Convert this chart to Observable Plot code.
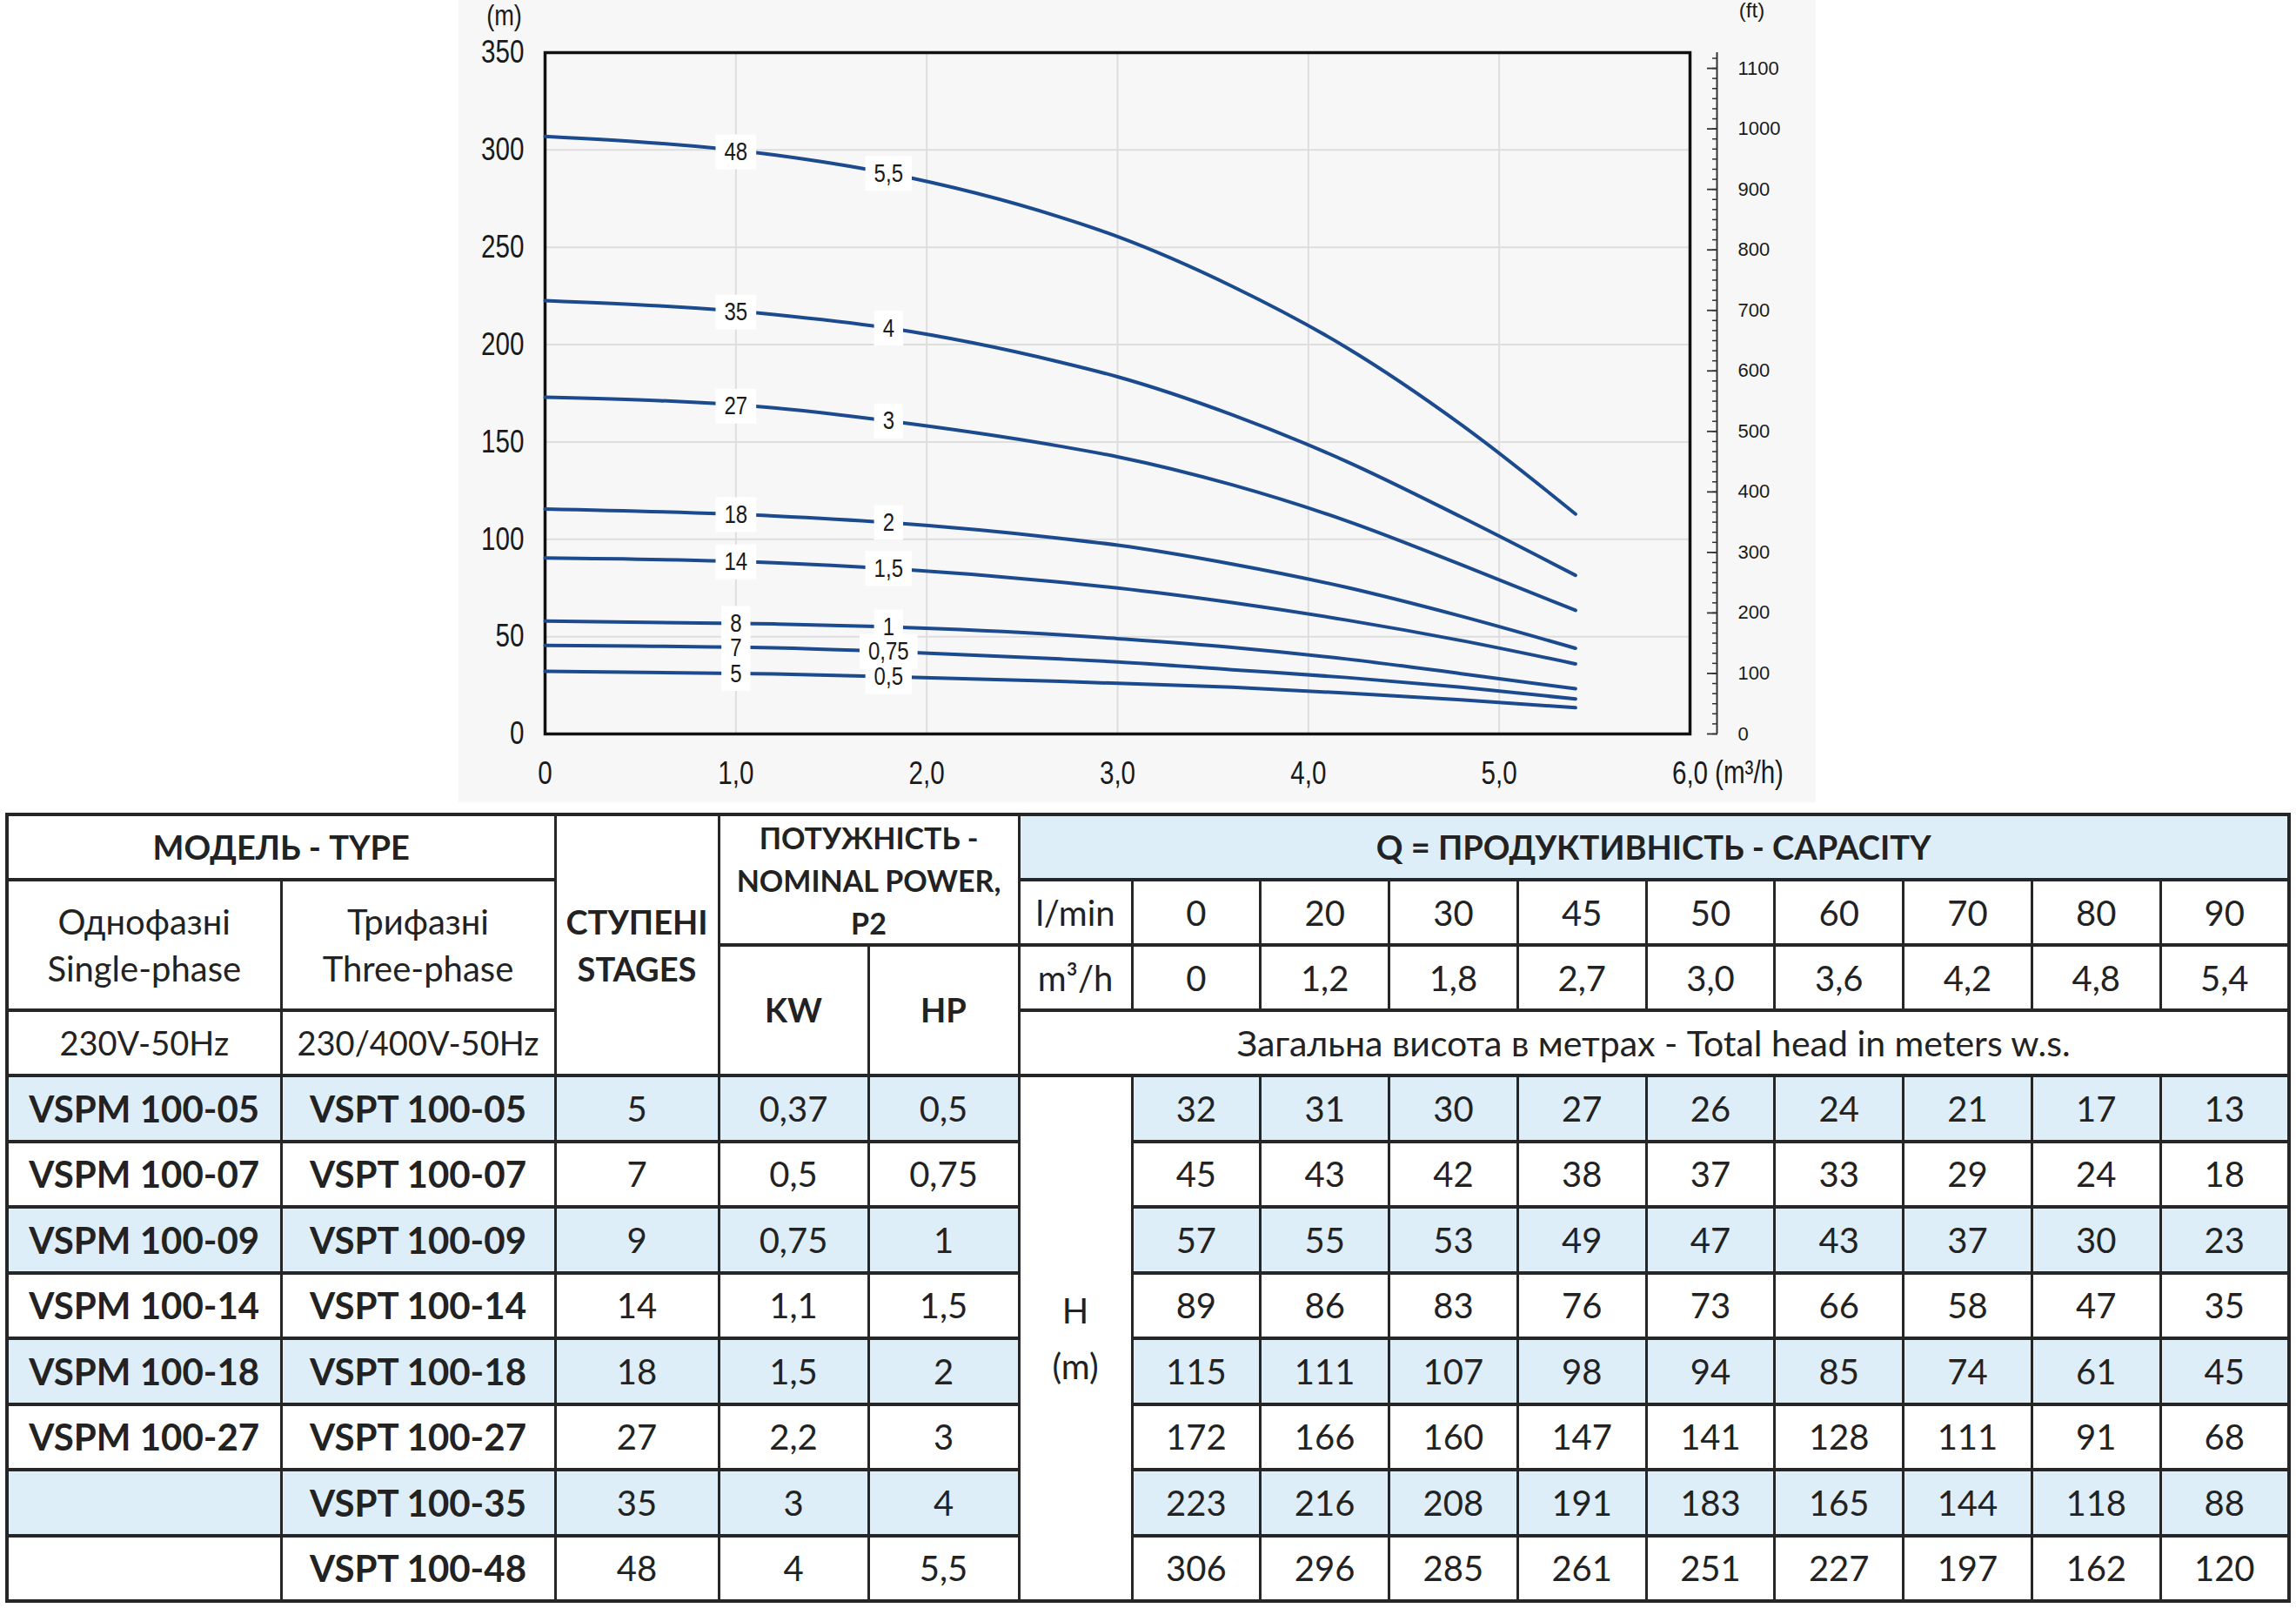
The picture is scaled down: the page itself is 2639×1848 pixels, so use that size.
<!DOCTYPE html>
<html>
<head>
<meta charset="utf-8">
<script src="https://cdn.jsdelivr.net/npm/d3@7"></script>
<script src="https://cdn.jsdelivr.net/npm/@observablehq/plot@0.6"></script>
<style>
  html, body { margin: 0; padding: 0; background: #ffffff; width: 2639px; height: 1848px; overflow: hidden; }
  #chart { position: absolute; left: 527px; top: 0; width: 1560px; height: 922px; background: #f7f7f7; }
  #table { position: absolute; display: grid; background: #262626; box-sizing: content-box;
           font-family: Lato, "Open Sans", sans-serif; color: #222; }
  #table .c { display: flex; align-items: center; justify-content: center; text-align: center;
              background: #ffffff; font-size: 40px; line-height: 1.2; white-space: nowrap; }
  #table .blue { background: #ddeef9; }
  #table .b { font-weight: 700; }
</style>
</head>
<body>
<div id="chart"></div>
<div id="table"></div>
<script>
// ---------------- DATA ----------------
// Flow points (table columns)
const flowLmin = [0, 20, 30, 45, 50, 60, 70, 80, 90];
const flowM3h  = [0, 1.2, 1.8, 2.7, 3.0, 3.6, 4.2, 4.8, 5.4];
const flowM3hText = ["0", "1,2", "1,8", "2,7", "3,0", "3,6", "4,2", "4,8", "5,4"];

// Models (table rows)
const singlePhase = ["VSPM 100-05", "VSPM 100-07", "VSPM 100-09", "VSPM 100-14", "VSPM 100-18", "VSPM 100-27", "", ""];
const threePhase  = ["VSPT 100-05", "VSPT 100-07", "VSPT 100-09", "VSPT 100-14", "VSPT 100-18", "VSPT 100-27", "VSPT 100-35", "VSPT 100-48"];
const stages  = ["5", "7", "9", "14", "18", "27", "35", "48"];
const powerKW = ["0,37", "0,5", "0,75", "1,1", "1,5", "2,2", "3", "4"];
const powerHP = ["0,5", "0,75", "1", "1,5", "2", "3", "4", "5,5"];

// Total head table (m)
const head05 = [32, 31, 30, 27, 26, 24, 21, 17, 13];
const head07 = [45, 43, 42, 38, 37, 33, 29, 24, 18];
const head09 = [57, 55, 53, 49, 47, 43, 37, 30, 23];
const head14 = [89, 86, 83, 76, 73, 66, 58, 47, 35];
const head18 = [115, 111, 107, 98, 94, 85, 74, 61, 45];
const head27 = [172, 166, 160, 147, 141, 128, 111, 91, 68];
const head35 = [223, 216, 208, 191, 183, 165, 144, 118, 88];
const head48 = [306, 296, 285, 261, 251, 227, 197, 162, 120];
const headTable = [head05, head07, head09, head14, head18, head27, head35, head48];

// Curves as drawn in the graph (at the flow points above)
const curve05 = [32.2, 30.8, 29.4, 27, 26, 24, 21, 17.5, 13.5];
const curve07 = [45.5, 44.2, 42.3, 38.5, 37, 33, 29, 24, 18];
const curve09 = [58, 56.5, 55, 51, 49, 44.5, 38.5, 31, 23.2];
const curve14 = [90.4, 88, 85, 78, 75, 67.5, 58.5, 48, 36];
const curve18 = [115.6, 112, 108.6, 100.5, 97, 87.3, 75.3, 60.5, 44];
const curve27 = [173, 167.5, 160.8, 147.8, 142.4, 128, 109.5, 87, 63.5];
const curve35 = [222.6, 215.5, 208.5, 191, 183.5, 164, 140, 111.5, 81.5];
const curve48 = [307, 297.5, 288, 265.5, 255.5, 230, 198.5, 159, 113];
const curves = [curve05, curve07, curve09, curve14, curve18, curve27, curve35, curve48];
const curveStageLabels = ["5", "7", "8", "14", "18", "27", "35", "48"];
const curveHpLabels    = ["0,5", "0,75", "1", "1,5", "2", "3", "4", "5,5"];
const stageLabelQ = 1.0;
const hpLabelQ = 1.8;

// Axes
const xTicks   = [0, 1, 2, 3, 4, 5, 6];
const yTicksM  = [0, 50, 100, 150, 200, 250, 300, 350];
const ftTicks  = [0, 100, 200, 300, 400, 500, 600, 700, 800, 900, 1000, 1100];
const ftAtTop  = 1126;           // feet value level with the top of the frame (350 m)
const ftMinorPer100 = 6;

// ---------------- CHART ----------------
const NARROW = "'Liberation Sans',Arial,sans-serif";     // drawn horizontally condensed
const WIDE = "Arial,'Liberation Sans',sans-serif";
const CONDENSE = 0.8;
const LABEL_SIZE = 30;
const ftToM = ft => ft * 350 / ftAtTop;
const ftMinor = d3.range(0, ftAtTop, 100 / ftMinorPer100);

const lineData = curves.flatMap((c, i) => c.map((h, j) => ({curve: i, q: flowM3h[j], h})));
const labelData = curves.flatMap((c, i) => {
  const f = d3.scaleLinear().domain(flowM3h).range(c);
  return [
    {q: stageLabelQ, h: f(stageLabelQ), label: curveStageLabels[i]},
    {q: hpLabelQ, h: f(hpLabelQ), label: curveHpLabels[i]}
  ];
});

// white box behind each curve label (rectangle symbol: half-width = r, fixed height)
const BOX_H = 40;
const boxSymbol = {
  draw(context, size) {
    const r = Math.sqrt(size / Math.PI);
    context.rect(-r, -BOX_H / 2, 2 * r, BOX_H);
  }
};
const glyphW = ch => (ch === "," ? 0.278 : 0.556) * LABEL_SIZE * CONDENSE;
const boxHalf = s => (Array.from(s).reduce((a, ch) => a + glyphW(ch), 0) + 20) / 2;
const labelLengths = Array.from(new Set(labelData.map(d => d.label.length)));
const boxMarks = labelLengths.map(len => {
  const group = labelData.filter(d => d.label.length === len);
  return Plot.dot(group, {x: "q", y: "h", r: boxHalf(group[0].label), symbol: boxSymbol, fill: "#ffffff", stroke: "none"});
});

const chart = Plot.plot({
  width: 1560, height: 922,
  marginLeft: 99, marginRight: 145, marginTop: 60, marginBottom: 79,
  style: {background: "transparent", fontFamily: NARROW, color: "#1a1a1a", overflow: "visible"},
  x: {domain: [0, 6]},
  y: {domain: [0, 350]},
  marks: [
    Plot.gridX(xTicks.slice(1, -1), {stroke: "#dedede", strokeOpacity: 1, strokeWidth: 2}),
    Plot.gridY(yTicksM.slice(1, -1), {stroke: "#dedede", strokeOpacity: 1, strokeWidth: 2}),
    Plot.frame({stroke: "#111111", strokeWidth: 3.5}),
    Plot.axisY(yTicksM, {anchor: "left", tickSize: 0, tickPadding: 24, fontSize: 37, fontFamily: NARROW, label: null,
      tickFormat: d => String(d)}),
    Plot.axisX(xTicks, {anchor: "bottom", tickSize: 0, tickPadding: 31, fontSize: 37, fontFamily: NARROW, label: null,
      tickFormat: d => d === 0 ? "0" : d.toFixed(1).replace(".", ",")}),
    // secondary feet axis
    Plot.ruleX([6], {y1: 0, y2: 350, dx: 31, stroke: "#333333", strokeWidth: 2}),
    Plot.axisY(ftMinor.map(ftToM), {anchor: "right", dx: 25, tickSize: 6, fill: "none", label: null,
      stroke: "#333333", strokeWidth: 1.5}),
    Plot.axisY(ftTicks.map(ftToM), {anchor: "right", dx: 19, tickSize: 12, tickPadding: 24, label: null,
      fontSize: 22, fontFamily: WIDE, stroke: "#333333", strokeWidth: 1.8,
      tickFormat: d => String(Math.round(d * ftAtTop / 350))}),
    // curves
    Plot.line(lineData, {x: "q", y: "h", z: "curve", stroke: "#1b4b8e", strokeWidth: 4, curve: "monotone-x"}),
    // label boxes, then label texts
    ...boxMarks,
    Plot.text(labelData, {x: "q", y: "h", text: "label", fontSize: LABEL_SIZE, fontFamily: NARROW, fill: "#1a1a1a"}),
    // unit labels
    Plot.text(["(m)"], {frameAnchor: "top-left", dx: -47, dy: -42, fontSize: 34, fontFamily: NARROW,
      textAnchor: "middle", lineAnchor: "middle"}),
    Plot.text(["(ft)"], {frameAnchor: "top-right", dx: 71, dy: -48, fontSize: 24, fontFamily: WIDE,
      textAnchor: "middle", lineAnchor: "middle"}),
    Plot.text(["(m³/h)"], {frameAnchor: "bottom-right", dx: 68, dy: 45, fontSize: 37, fontFamily: NARROW,
      textAnchor: "middle", lineAnchor: "middle"})
  ]
});

// condense the narrow-font texts horizontally about their anchor points
Array.from(chart.querySelectorAll("g"))
  .filter(g => g.getAttribute("font-family") === NARROW)
  .forEach(g => g.querySelectorAll("text").forEach(t => {
    const x = parseFloat(t.getAttribute("x")) || 0;
    const tr = t.getAttribute("transform") || "";
    t.setAttribute("transform", `${tr} translate(${x},0) scale(${CONDENSE},1) translate(${-x},0)`);
  }));
document.getElementById("chart").appendChild(chart);

// ---------------- TABLE ----------------
const colEdges = [8, 323, 638, 826, 998, 1171, 1301].concat(d3.range(1, 10).map(k => 1301 + k * (2631 - 1301) / 9));
const rowEdges = [936, 1011, 1086, 1161, 1236].concat(d3.range(1, 9).map(k => 1236 + k * (1840 - 1236) / 8));
const OUTER = 4, VGAP = 3, HGAP = 4;

function tracks(edges, gap) {
  const n = edges.length - 1;
  return d3.range(n).map(i => {
    const a = edges[i] + (i === 0 ? OUTER / 2 : gap / 2);
    const b = edges[i + 1] - (i === n - 1 ? OUTER / 2 : gap / 2);
    return (b - a).toFixed(2) + "px";
  }).join(" ");
}

const table = document.getElementById("table");
Object.assign(table.style, {
  left: (colEdges[0] - OUTER / 2) + "px",
  top: (rowEdges[0] - OUTER / 2) + "px",
  padding: OUTER + "px",
  columnGap: VGAP + "px",
  rowGap: HGAP + "px",
  gridTemplateColumns: tracks(colEdges, VGAP),
  gridTemplateRows: tracks(rowEdges, HGAP)
});

function cell(html, col, row, opts = {}) {
  const d = document.createElement("div");
  d.className = "c" + (opts.bold ? " b" : "") + (opts.blue ? " blue" : "");
  d.style.gridColumn = `${col + 1} / span ${opts.cs || 1}`;
  d.style.gridRow = `${row + 1} / span ${opts.rs || 1}`;
  if (opts.size) d.style.fontSize = opts.size + "px";
  if (opts.lh) d.style.lineHeight = opts.lh + "px";
  d.innerHTML = html;
  table.appendChild(d);
}

// header
cell("МОДЕЛЬ - TYPE", 0, 0, {cs: 2, bold: true, size: 38});
cell("СТУПЕНІ<br>STAGES", 2, 0, {rs: 4, bold: true, size: 38, lh: 54});
cell("ПОТУЖНІСТЬ -<br>NOMINAL POWER,<br>P2", 3, 0, {cs: 2, rs: 2, bold: true, size: 34, lh: 49});
cell("Q = ПРОДУКТИВНІСТЬ - CAPACITY", 5, 0, {cs: 10, bold: true, blue: true, size: 38});
cell("Однофазні<br>Single-phase", 0, 1, {rs: 2, size: 40, lh: 54});
cell("Трифазні<br>Three-phase", 1, 1, {rs: 2, size: 40, lh: 54});
cell("l/min", 5, 1);
flowLmin.forEach((v, j) => cell(String(v), 6 + j, 1));
cell("KW", 3, 2, {rs: 2, bold: true, size: 38});
cell("HP", 4, 2, {rs: 2, bold: true, size: 38});
cell("m³/h", 5, 2);
flowM3hText.forEach((v, j) => cell(v, 6 + j, 2));
cell("230V-50Hz", 0, 3, {size: 38});
cell("230/400V-50Hz", 1, 3, {size: 38});
cell("Загальна висота в метрах - Total head in meters w.s.", 5, 3, {cs: 10, size: 41});

// body
threePhase.forEach((m, i) => {
  const r = 4 + i, blue = i % 2 === 0;
  cell(singlePhase[i], 0, r, {bold: true, blue, size: 42});
  cell(m, 1, r, {bold: true, blue, size: 42});
  cell(stages[i], 2, r, {blue});
  cell(powerKW[i], 3, r, {blue});
  cell(powerHP[i], 4, r, {blue});
  headTable[i].forEach((v, j) => cell(String(v), 6 + j, r, {blue}));
});
cell("H<br>(m)", 5, 4, {rs: 8, lh: 64});
</script>
</body>
</html>
